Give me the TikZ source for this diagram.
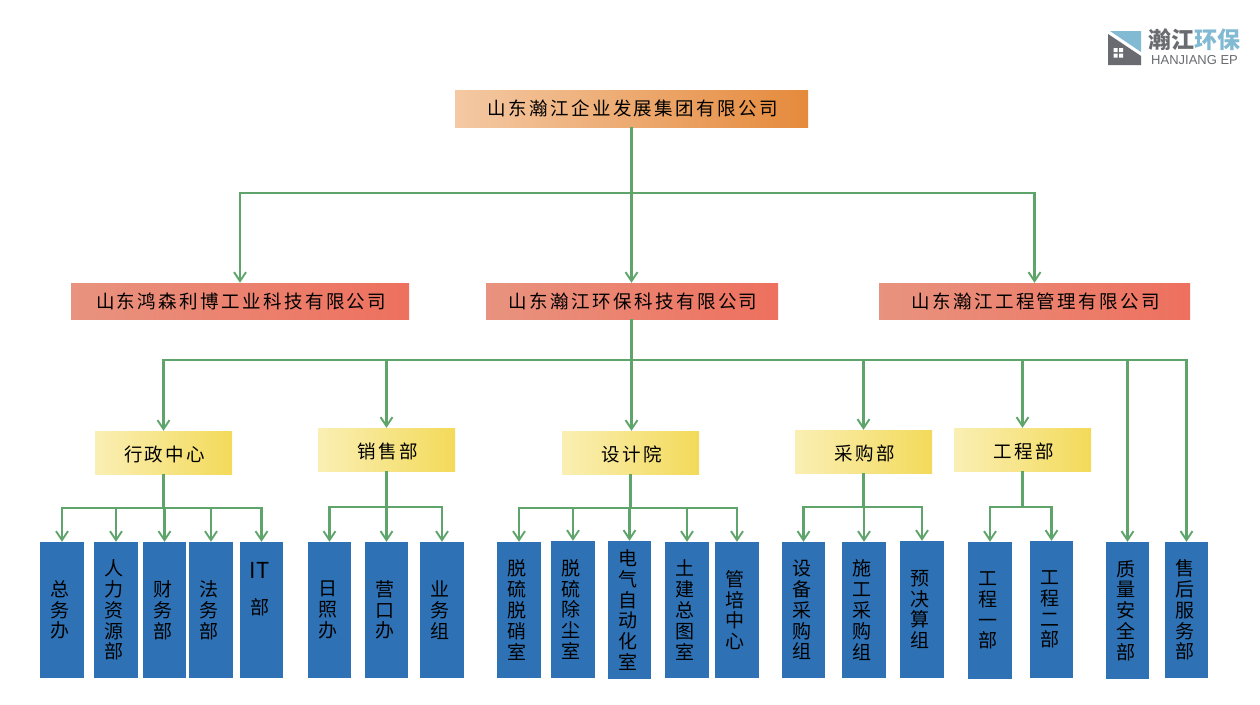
\documentclass[tikz,border=0pt]{standalone}
\usepackage{fontspec}
\setmainfont{Noto Sans CJK SC}
\newfontfamily\latinlogo{Liberation Sans}
\usetikzlibrary{arrows.meta}
\definecolor{linegreen}{HTML}{5FA56B}
\definecolor{boxblue}{HTML}{2E72B5}
\definecolor{logogray}{HTML}{6A6B70}
\definecolor{logoblue}{HTML}{82BAD3}
\definecolor{topL}{HTML}{F4C9A4}
\definecolor{topR}{HTML}{E58A3C}
\definecolor{redL}{HTML}{E8937F}
\definecolor{redR}{HTML}{EE705E}
\definecolor{yelL}{HTML}{FAEFB4}
\definecolor{yelR}{HTML}{F3DA5A}
\tikzset{
  x=1pt,y=-1pt,
  conn/.style={draw=linegreen,line width=2.1pt,-{Straight Barb[length=9pt,width=12pt,line width=1.9pt]}},
  plain/.style={draw=linegreen,line width=2.1pt},
  basebox/.style={inner sep=0pt,draw=none},
  topbox/.style={basebox,left color=topL,right color=topR,font=\fontsize{18.5}{22}\selectfont\addfontfeature{LetterSpace=13}},
  redbox/.style={basebox,left color=redL,right color=redR,font=\fontsize{18.5}{22}\selectfont\addfontfeature{LetterSpace=13}},
  yelbox/.style={basebox,left color=yelL,right color=yelR,text height=17pt,text depth=0pt,font=\fontsize{18.5}{22}\selectfont\addfontfeature{LetterSpace=13}},
  bluebox/.style={basebox,fill=boxblue,font=\fontsize{19}{20.8}\selectfont},
  logotext/.style={inner sep=0pt,anchor=west},
}
% name, style, x1, y1, x2, y2, text
\newcommand{\orgbox}[7]{\node[#2,minimum width={(#5-#3)*1pt},minimum height={(#6-#4)*1pt}] (#1) at ({(#3+#5)/2},{(#4+#6)/2}) {\hspace*{2.4pt}#7};}
% vertical text, set a little left of the box centre
\newcommand{\teambox}[6]{\node[bluebox,minimum width={(#4-#2)*1pt},minimum height={(#5-#3)*1pt}] (#1) at ({(#2+#4)/2},{(#3+#5)/2}) {\kern-4pt\parbox{30pt}{\centering #6}};}
\begin{document}
\begin{tikzpicture}
\useasboundingbox (0,0) rectangle (1260,704);
\fill[white] (0,0) rectangle (1260,704);

% logo
\fill[logoblue] (1110,31) -- (1141,31) -- (1141,52) -- cycle;
\fill[logogray] (1108,34) -- (1141,56) -- (1141,65) -- (1108,65) -- cycle;
\fill[white] (1113.5,48) rectangle (1117.5,52) (1119,48) rectangle (1123,52) (1113.5,53.5) rectangle (1117.5,57.5) (1119,53.5) rectangle (1123,57.5);
\node[logotext,font=\fontsize{23}{24}\bfseries\selectfont] (logocn) at (1148,40) {\textcolor{logogray}{瀚江}\textcolor{logoblue}{环保}};
\node[logotext,font=\fontsize{13}{15}\selectfont\latinlogo,text=logogray] (logoen) at (1151,60) {HANJIANG EP};

% boxes
\orgbox{group}{topbox}{455}{90}{808}{127}{山东瀚江企业发展集团有限公司}
\orgbox{hs}{redbox}{71}{283}{409}{319}{山东鸿森利博工业科技有限公司}
\orgbox{hb}{redbox}{486}{283}{778}{319}{山东瀚江环保科技有限公司}
\orgbox{gc}{redbox}{879}{283}{1190}{319}{山东瀚江工程管理有限公司}

\orgbox{xz}{yelbox}{95}{431}{232}{474}{行政中心}
\orgbox{xs}{yelbox}{318}{428}{455}{471}{销售部}
\orgbox{sj}{yelbox}{562}{431}{699}{474}{设计院}
\orgbox{cg}{yelbox}{795}{430}{932}{473}{采购部}
\orgbox{gcb}{yelbox}{954}{428}{1091}{471}{工程部}

\teambox{a1}{40}{542}{84}{678}{总\\务\\办}
\teambox{a2}{94}{542}{138}{678}{人\\力\\资\\源\\部}
\teambox{a3}{143}{542}{186}{678}{财\\务\\部}
\teambox{a4}{189}{542}{233}{678}{法\\务\\部}
\teambox{a5}{240}{542}{283}{678}{{\fontsize{22}{22}\selectfont IT}\\[15pt]部\\[16pt]\strut}
\teambox{b1}{308}{542}{351}{678}{日\\照\\办}
\teambox{b2}{365}{542}{408}{678}{营\\口\\办}
\teambox{b3}{420}{542}{464}{678}{业\\务\\组}
\teambox{c1}{497}{542}{541}{678}{脱\\硫\\脱\\硝\\室}
\teambox{c2}{551}{541}{595}{678}{脱\\硫\\除\\尘\\室}
\teambox{c3}{608}{541}{651}{679}{电\\气\\自\\动\\化\\室}
\teambox{c4}{665}{542}{709}{678}{土\\建\\总\\图\\室}
\teambox{c5}{715}{542}{759}{678}{管\\培\\中\\心}
\teambox{d1}{782}{542}{825}{678}{设\\备\\采\\购\\组}
\teambox{d2}{842}{542}{886}{678}{施\\工\\采\\购\\组}
\teambox{d3}{900}{541}{944}{678}{预\\决\\算\\组}
\teambox{e1}{968}{542}{1012}{679}{工\\程\\一\\部}
\teambox{e2}{1030}{541}{1073}{678}{工\\程\\二\\部}
\teambox{f1}{1106}{542}{1149}{679}{质\\量\\安\\全\\部}
\teambox{f2}{1165}{542}{1208}{678}{售\\后\\服\\务\\部}

% bus levels
\coordinate (busA) at (0,193);
\coordinate (busB) at (0,360);
\coordinate (busC) at (0,508);
\coordinate (busD) at (0,507);

% group to companies
\draw[conn] (group.south) -- (group.south |- hb.north);
\draw[conn] (group.south |- busA) -| (hs.north);
\draw[conn] (group.south |- busA) -| (gc.north);

% company to departments
\draw[conn] (group.south |- hb.south) -- (group.south |- sj.north);
\draw[conn] (group.south |- busB) -| (xz.north);
\draw[conn] (group.south |- busB) -| (xs.north);
\draw[conn] (group.south |- busB) -| (cg.north);
\draw[conn] (group.south |- busB) -| (gcb.north);
\draw[conn] (group.south |- busB) -| (f1.north);
\draw[conn] (group.south |- busB) -| (f2.north);

% departments to teams
\draw[plain] (xz.south) -- (xz.south |- busC);
\foreach \t in {a1,a2,a3,a4,a5} \draw[conn] (xz.south |- busC) -| (\t.north);
\draw[plain] (xs.south) -- (xs.south |- busD);
\foreach \t in {b1,b2,b3} \draw[conn] (xs.south |- busD) -| (\t.north);
\draw[plain] (sj.south) -- (sj.south |- busC);
\foreach \t in {c1,c2,c3,c4,c5} \draw[conn] (sj.south |- busC) -| (\t.north);
\draw[plain] (cg.south) -- (cg.south |- busD);
\foreach \t in {d1,d2,d3} \draw[conn] (cg.south |- busD) -| (\t.north);
\draw[plain] (gcb.south) -- (gcb.south |- busD);
\foreach \t in {e1,e2} \draw[conn] (gcb.south |- busD) -| (\t.north);
\end{tikzpicture}
\end{document}
